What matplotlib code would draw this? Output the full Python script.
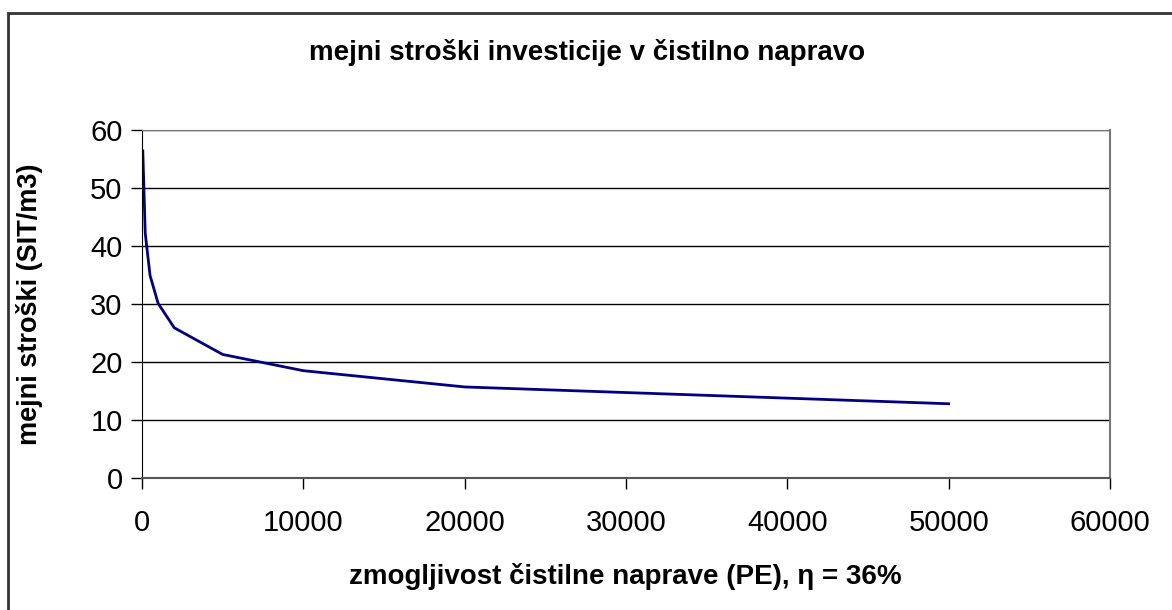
import matplotlib
matplotlib.use("Agg")
import matplotlib.pyplot as plt
from matplotlib.patches import Rectangle

# capacity (PE) vs marginal cost (SIT/m3)
capacity = [50, 200, 500, 1000, 2000, 5000, 10000, 20000, 50000]
cost = [56.4, 42.2, 34.9, 30.1, 25.9, 21.3, 18.5, 15.7, 12.8]

x_ticks = [0, 10000, 20000, 30000, 40000, 50000, 60000]
y_ticks = [0, 10, 20, 30, 40, 50, 60]

title = "mejni stroški investicije v čistilno napravo"
x_label = "zmogljivost čistilne naprave (PE), η = 36%"
y_label = "mejni stroški (SIT/m3)"

plt.rcParams['font.family'] = ['Liberation Sans', 'DejaVu Sans']

fig = plt.figure(figsize=(11.72, 6.10), dpi=100)
fig.patch.set_facecolor("white")

# outer chart border (right/bottom fall outside the picture)
fig.patches.append(Rectangle((8 / 1172, -0.05), 1.2, 1.05 - 13 / 610,
                             transform=fig.transFigure, fill=False,
                             edgecolor="#333333", linewidth=2))

ax = fig.add_axes([142 / 1172, 132 / 610, (1110 - 142) / 1172, (478 - 130) / 610])
ax.plot(capacity, cost, color="#000080", linewidth=2)

ax.set_xlim(0, 60000)
ax.set_ylim(0, 60)
ax.set_xticks(x_ticks)
ax.set_yticks(y_ticks)
ax.tick_params(direction="out", length=8, width=1, color="black",
               labelsize=21)
ax.tick_params(axis="x", pad=14)
ax.tick_params(axis="y", pad=6)
ax.yaxis.grid(True, color="black", linewidth=1)
ax.set_axisbelow(True)

ax.spines["left"].set_color("black")
ax.spines["bottom"].set_color("#555555")
ax.spines["bottom"].set_linewidth(1.5)
ax.spines["top"].set_color("#777777")
ax.spines["right"].set_color("#777777")
ax.spines["right"].set_linewidth(1.5)

fig.text(587 / 1172, 1 - 52 / 610, title, ha="center", va="center",
         fontsize=20, fontweight="bold")
fig.text(625 / 1172, 1 - 577 / 610, x_label, ha="center", va="center",
         fontsize=20, fontweight="bold")
fig.text(30 / 1172, 1 - 304 / 610, y_label, ha="center", va="center",
         rotation=90, fontsize=19.5, fontweight="bold")

fig.savefig("out.png", dpi=100, facecolor="white")
